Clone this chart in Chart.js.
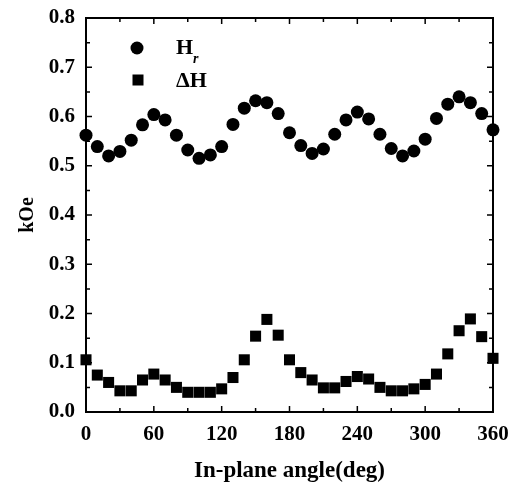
<!DOCTYPE html>
<html>
<head>
<meta charset="utf-8">
<script src="https://cdn.jsdelivr.net/npm/chart.js@4"></script>
<style>
    body { margin: 0; background: #fff; }
    #wrap { width: 512px; height: 486px; }
</style>
</head>
<body>
<div id="wrap"><canvas id="fmrChart" width="512" height="486"></canvas></div>
<script>
const angles = [0, 10, 20, 30, 40, 50, 60, 70, 80, 90, 100, 110, 120, 130, 140, 150, 160, 170, 180,
    190, 200, 210, 220, 230, 240, 250, 260, 270, 280, 290, 300, 310, 320, 330, 340, 350, 360];

const hr = [0.562, 0.539, 0.520, 0.529, 0.552, 0.583, 0.604, 0.593, 0.562, 0.532, 0.515, 0.522, 0.539,
    0.584, 0.617, 0.632, 0.628, 0.606, 0.567, 0.541, 0.525, 0.534, 0.564, 0.593, 0.609, 0.595,
    0.564, 0.535, 0.520, 0.530, 0.554, 0.596, 0.625, 0.640, 0.628, 0.606, 0.573];

const dH = [0.106, 0.075, 0.060, 0.043, 0.043, 0.065, 0.077, 0.065, 0.050, 0.040, 0.040, 0.040, 0.047,
    0.070, 0.106, 0.154, 0.188, 0.156, 0.106, 0.080, 0.065, 0.049, 0.049, 0.062, 0.072, 0.067,
    0.050, 0.043, 0.043, 0.047, 0.056, 0.077, 0.118, 0.165, 0.189, 0.153, 0.109];

const xMajor = [0, 60, 120, 180, 240, 300, 360];
const yMajor = [0.0, 0.1, 0.2, 0.3, 0.4, 0.5, 0.6, 0.7, 0.8];

const serif = '"Liberation Serif", "DejaVu Serif", serif';

// frame with inward ticks on all four sides, plus the legend
const framePlugin = {
    id: 'frame',
    afterDatasetsDraw(chart) {
        const ctx = chart.ctx;
        const a = chart.chartArea;
        const xs = chart.scales.x, ys = chart.scales.y;
        ctx.save();
        ctx.strokeStyle = '#000';
        ctx.lineWidth = 2;
        ctx.strokeRect(a.left, a.top, a.right - a.left, a.bottom - a.top);
        ctx.lineWidth = 1.5;
        ctx.beginPath();
        for (let v = 0; v <= 360; v += 30) {
            const px = xs.getPixelForValue(v);
            const len = v % 60 === 0 ? 6 : 4;
            ctx.moveTo(px, a.bottom); ctx.lineTo(px, a.bottom - len);
            ctx.moveTo(px, a.top); ctx.lineTo(px, a.top + len);
        }
        for (let i = 0; i <= 16; i++) {
            const v = i * 0.05;
            const py = ys.getPixelForValue(v);
            const len = i % 2 === 0 ? 6 : 4;
            ctx.moveTo(a.left, py); ctx.lineTo(a.left + len, py);
            ctx.moveTo(a.right, py); ctx.lineTo(a.right - len, py);
        }
        ctx.stroke();

        // legend
        ctx.fillStyle = '#000';
        ctx.beginPath();
        ctx.arc(137, 48, 6.5, 0, Math.PI * 2);
        ctx.fill();
        ctx.fillRect(132.5, 74.5, 11, 11);
        ctx.textBaseline = 'middle';
        ctx.textAlign = 'left';
        ctx.font = 'bold 22px ' + serif;
        ctx.fillText('H', 176, 48);
        ctx.font = 'bold italic 14px ' + serif;
        ctx.fillText('r', 193, 59);
        ctx.font = 'bold 22px ' + serif;
        ctx.fillText('\u0394H', 176, 81);
        ctx.restore();
    }
};

const ctx = document.getElementById('fmrChart').getContext('2d');
const chart = new Chart(ctx, {
    type: 'scatter',
    data: {
        datasets: [
            {
                label: 'Hr',
                data: angles.map((a, i) => ({ x: a, y: hr[i] })),
                pointStyle: 'circle',
                pointRadius: 6.5,
                backgroundColor: '#000',
                borderColor: '#000',
                borderWidth: 0
            },
            {
                label: '\u0394H',
                data: angles.map((a, i) => ({ x: a, y: dH[i] })),
                pointStyle: 'rect',
                pointRadius: 7.8,
                backgroundColor: '#000',
                borderColor: '#000',
                borderWidth: 0
            }
        ]
    },
    options: {
        responsive: false,
        animation: false,
        clip: false,
        layout: { padding: { top: 18, right: 19, left: 0, bottom: 0 } },
        plugins: {
            legend: { display: false },
            tooltip: { enabled: false }
        },
        scales: {
            x: {
                type: 'linear',
                min: 0,
                max: 360,
                afterBuildTicks: s => { s.ticks = xMajor.map(v => ({ value: v })); },
                afterFit: s => {
                    s.height = 74;
                    s.paddingLeft = 0;
                    s.paddingRight = 0;
                },
                grid: { display: false },
                border: { display: false },
                ticks: {
                    color: '#000',
                    padding: 2,
                    maxRotation: 0,
                    font: { family: serif, size: 21, weight: 'bold' }
                },
                title: {
                    display: true,
                    text: 'In-plane angle(deg)',
                    color: '#000',
                    padding: { top: 10, bottom: 1 },
                    font: { family: serif, size: 23, weight: 'bold' }
                }
            },
            y: {
                min: 0,
                max: 0.8,
                afterBuildTicks: s => { s.ticks = yMajor.map(v => ({ value: v })); },
                afterFit: s => {
                    s.width = 86;
                    s.paddingTop = 0;
                    s.paddingBottom = 0;
                },
                grid: { display: false },
                border: { display: false },
                ticks: {
                    color: '#000',
                    padding: 3,
                    callback: v => v.toFixed(1),
                    font: { family: serif, size: 21, weight: 'bold' }
                },
                title: {
                    display: true,
                    text: 'kOe',
                    color: '#000',
                    padding: { top: 16, bottom: 0 },
                    font: { family: serif, size: 20, weight: 'bold' }
                }
            }
        }
    },
    plugins: [framePlugin]
});
</script>
</body>
</html>
